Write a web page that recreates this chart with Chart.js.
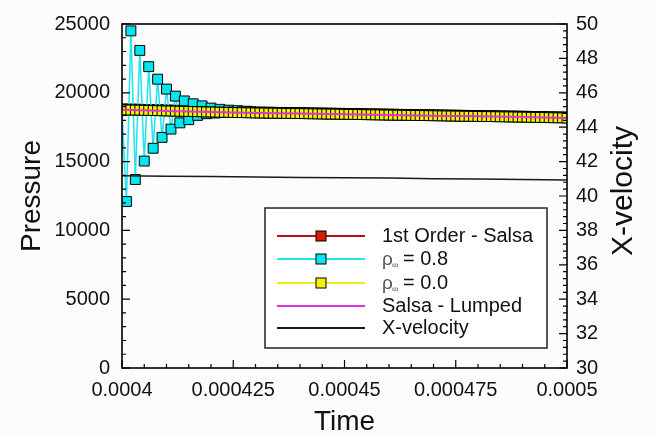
<!DOCTYPE html>
<html lang="en">
<head>
<meta charset="UTF-8">
<title>Pressure and X-velocity vs Time</title>
<script src="https://cdn.jsdelivr.net/npm/chart.js"></script>
<style>
  body { margin: 0; background: #fcfcfc; }
  #wrap { width: 656px; height: 437px; position: relative; }
</style>
</head>
<body>
<div id="wrap"><canvas id="chart"></canvas></div>
<script>
// sampling of the marker series: one point per microsecond
const T0 = 0.0004;
const DT = 0.000001;

const timeTicks = [0.0004, 0.000425, 0.00045, 0.000475, 0.0005];
const timeTickLabels = ['0.0004', '0.000425', '0.00045', '0.000475', '0.0005'];
const pressureTicks = [0, 5000, 10000, 15000, 20000, 25000];
const pressureTickLabels = ['0', '5000', '10000', '15000', '20000', '25000'];
const velocityTicks = [30, 32, 34, 36, 38, 40, 42, 44, 46, 48, 50];
const velocityTickLabels = ['30', '32', '34', '36', '38', '40', '42', '44', '46', '48', '50'];

// pressure, 1st Order - Salsa
const firstOrder = [
  18820, 18815, 18810, 18805, 18800, 18790, 18780, 18775, 18765, 18755,
  18745, 18740, 18730, 18720, 18715, 18705, 18700, 18690, 18680, 18670,
  18665, 18660, 18650, 18645, 18640, 18630, 18625, 18620, 18615, 18605,
  18600, 18595, 18590, 18585, 18580, 18575, 18570, 18565, 18560, 18555,
  18550, 18545, 18540, 18535, 18530, 18525, 18520, 18515, 18510, 18505,
  18500, 18495, 18490, 18485, 18480, 18470, 18465, 18460, 18455, 18450,
  18445, 18440, 18435, 18430, 18425, 18420, 18415, 18410, 18405, 18400,
  18395, 18390, 18385, 18380, 18375, 18370, 18365, 18360, 18355, 18350,
  18345, 18340, 18335, 18330, 18325, 18320, 18315, 18310, 18305, 18300,
  18295, 18290, 18280, 18275, 18270, 18265, 18255, 18250, 18245, 18240,
  18230
];

// pressure, rho_inf = 0.8
const rho08 = [
  18700, 12100, 24500, 13700, 23080, 15040, 21900, 15970, 20990, 16760,
  20270, 17360, 19760, 17815, 19410, 18050, 19200, 18360, 19050, 18480,
  18890, 18530, 18800, 18580, 18740, 18610, 18700, 18620, 18660, 18610,
  18560, 18555, 18550, 18545, 18540, 18535, 18530, 18525, 18520, 18515,
  18510, 18505, 18500, 18495, 18490, 18485, 18480, 18475, 18470, 18465,
  18460, 18455, 18450, 18445, 18440, 18430, 18425, 18420, 18415, 18410,
  18405, 18400, 18395, 18390, 18385, 18380, 18375, 18370, 18365, 18360,
  18355, 18350, 18345, 18340, 18335, 18330, 18325, 18320, 18315, 18310,
  18305, 18300, 18295, 18290, 18285, 18280, 18275, 18270, 18265, 18260,
  18255, 18250, 18240, 18235, 18230, 18225, 18215, 18210, 18205, 18200,
  18190
];

// pressure, rho_inf = 0.0
const rho00 = [
  18760, 18755, 18750, 18745, 18740, 18730, 18720, 18715, 18705, 18695,
  18685, 18680, 18670, 18660, 18655, 18645, 18640, 18630, 18620, 18610,
  18605, 18600, 18590, 18585, 18580, 18570, 18565, 18560, 18555, 18545,
  18540, 18535, 18530, 18525, 18520, 18515, 18510, 18505, 18500, 18495,
  18490, 18485, 18480, 18475, 18470, 18465, 18460, 18455, 18450, 18445,
  18440, 18435, 18430, 18425, 18420, 18410, 18405, 18400, 18395, 18390,
  18385, 18380, 18375, 18370, 18365, 18360, 18355, 18350, 18345, 18340,
  18335, 18330, 18325, 18320, 18315, 18310, 18305, 18300, 18295, 18290,
  18285, 18280, 18275, 18270, 18265, 18260, 18255, 18250, 18245, 18240,
  18235, 18230, 18220, 18215, 18210, 18205, 18195, 18190, 18185, 18180,
  18170
];

// line-only series, every 10 microseconds
const coarseTimes = [0.0004, 0.00041, 0.00042, 0.00043, 0.00044, 0.00045,
                     0.00046, 0.00047, 0.00048, 0.00049, 0.0005];
const lumped = [18770, 18680, 18600, 18540, 18490, 18440, 18380, 18340, 18290, 18240, 18170];
const xVelocity = [41.18, 41.15, 41.13, 41.11, 41.08, 41.06, 41.04, 41.01, 40.99, 40.96, 40.93];

const stepTimes = rho00.map((_, i) => T0 + i * DT);
const pts = (xs, ys) => ys.map((y, i) => ({ x: xs[i], y: y }));

const FONT = 'Liberation Sans, Arial, Helvetica, sans-serif';

const series = [
  { label: '1st Order - Salsa', line: '#b81010', fill: '#d42000', marker: true },
  { label: 'rho08', line: '#20e4f0', fill: '#00e6ee', marker: true },
  { label: 'rho00', line: '#eeee10', fill: '#f4f400', marker: true },
  { label: 'Salsa - Lumped', line: '#e030e0', marker: false },
  { label: 'X-velocity', line: '#1a1a1a', marker: false }
];

// inward ticks, frame, legend box and right-hand title
const decorations = {
  id: 'decorations',
  afterDatasetsDraw(chart) {
    const { ctx, chartArea: a } = chart;
    const sx = chart.scales.x, sy = chart.scales.y, sv = chart.scales.y2;
    ctx.save();
    ctx.strokeStyle = '#000';
    ctx.lineWidth = 1.2;

    function ticks(values, scale, draw) {
      for (let i = 0; i < values.length; i++) {
        draw(scale.getPixelForValue(values[i]), 8);
        if (i < values.length - 1) {
          const step = (values[i + 1] - values[i]) / 5;
          for (let j = 1; j < 5; j++) draw(scale.getPixelForValue(values[i] + j * step), 4);
        }
      }
    }
    ctx.beginPath();
    ticks(timeTicks, sx, (p, len) => { ctx.moveTo(p, a.bottom); ctx.lineTo(p, a.bottom - len); });
    ticks(pressureTicks, sy, (p, len) => { ctx.moveTo(a.left, p); ctx.lineTo(a.left + len, p); });
    ticks(velocityTicks, sv, (p, len) => { ctx.moveTo(a.right, p); ctx.lineTo(a.right - len, p); });
    ctx.stroke();

    ctx.lineWidth = 1.6;
    ctx.strokeRect(a.left, a.top, a.right - a.left, a.bottom - a.top);

    // legend
    const bx = 265, by = 208, bw = 282, bh = 140;
    ctx.fillStyle = '#fff';
    ctx.fillRect(bx, by, bw, bh);
    ctx.lineWidth = 1.5;
    ctx.strokeStyle = '#222';
    ctx.strokeRect(bx, by, bw, bh);
    const rows = [236, 259, 283, 306, 328];
    series.forEach((s, i) => {
      const y = rows[i];
      ctx.strokeStyle = s.line;
      ctx.lineWidth = 2;
      ctx.beginPath();
      ctx.moveTo(277, y);
      ctx.lineTo(365, y);
      ctx.stroke();
      if (s.marker) {
        ctx.fillStyle = s.fill;
        ctx.fillRect(316, y - 5, 10, 10);
        ctx.strokeStyle = '#000';
        ctx.lineWidth = 1;
        ctx.strokeRect(316, y - 5, 10, 10);
      }
      ctx.fillStyle = '#111';
      ctx.textBaseline = 'middle';
      ctx.textAlign = 'left';
      if (i === 1 || i === 2) {
        ctx.font = '19px ' + FONT;
        ctx.fillStyle = '#555';
        ctx.fillText('ρ', 382, y + 1);
        ctx.font = '9px ' + FONT;
        ctx.fillText('∞', 392, y + 7);
        ctx.fillStyle = '#111';
        ctx.font = '20px ' + FONT;
        ctx.fillText(i === 1 ? '= 0.8' : '= 0.0', 403, y);
      } else {
        ctx.font = '20px ' + FONT;
        ctx.fillText(s.label, 382, y);
      }
    });

    // right axis title, read bottom to top
    ctx.translate(624, 191);
    ctx.rotate(-Math.PI / 2);
    ctx.font = '30px ' + FONT;
    ctx.fillStyle = '#111';
    ctx.textAlign = 'center';
    ctx.textBaseline = 'middle';
    ctx.fillText('X-velocity', 0, 0);
    ctx.restore();
  }
};

const markerSet = (s, data, order) => ({
  label: s.label, data, order,
  borderColor: s.line, borderWidth: s === series[1] ? 1.5 : 2,
  pointStyle: 'rect', pointRadius: 7, pointHoverRadius: 7,
  pointBackgroundColor: s.fill, pointBorderColor: '#000', pointBorderWidth: 1,
  yAxisID: 'y'
});

new Chart(document.getElementById('chart'), {
  type: 'line',
  data: {
    datasets: [
      markerSet(series[0], pts(stepTimes, firstOrder), 5),
      markerSet(series[1], pts(stepTimes, rho08), 4),
      markerSet(series[2], pts(stepTimes, rho00), 3),
      { label: series[3].label, data: pts(coarseTimes, lumped), order: 2,
        borderColor: series[3].line, borderWidth: 2, pointRadius: 0, yAxisID: 'y' },
      { label: series[4].label, data: pts(coarseTimes, xVelocity), order: 1,
        borderColor: series[4].line, borderWidth: 1.5, pointRadius: 0, yAxisID: 'y2' }
    ]
  },
  options: {
    responsive: true,
    maintainAspectRatio: false,
    animation: false,
    events: [],
    layout: { padding: { top: 19, left: 0, right: 0, bottom: 0 } },
    plugins: { legend: { display: false }, tooltip: { enabled: false } },
    scales: {
      x: {
        type: 'linear', min: 0.0004, max: 0.0005,
        border: { display: false },
        grid: { display: false, drawTicks: false, tickLength: 0 },
        afterBuildTicks: s => { s.ticks = timeTicks.map(v => ({ value: v })); },
        afterFit: s => { s.height = 69; },
        ticks: {
          autoSkip: false, maxRotation: 0, padding: 10, color: '#111',
          font: { family: FONT, size: 20 },
          callback: (v, i) => timeTickLabels[i]
        },
        title: {
          display: true, text: 'Time', color: '#111',
          font: { family: FONT, size: 28, lineHeight: 1 },
          padding: { top: 0, bottom: 1 }
        }
      },
      y: {
        position: 'left', min: 0, max: 25000,
        border: { display: false },
        grid: { display: false, drawTicks: false, tickLength: 0 },
        afterBuildTicks: s => { s.ticks = pressureTicks.map(v => ({ value: v })); },
        afterFit: s => { s.width = 122; },
        ticks: {
          padding: 12, color: '#111',
          font: { family: FONT, size: 20 },
          callback: (v, i) => pressureTickLabels[i]
        },
        title: {
          display: true, text: 'Pressure', color: '#111',
          font: { family: FONT, size: 28, lineHeight: 1 },
          padding: { top: 18, bottom: 0 }
        }
      },
      y2: {
        position: 'right', min: 30, max: 50,
        border: { display: false },
        grid: { display: false, drawTicks: false, tickLength: 0 },
        afterBuildTicks: s => { s.ticks = velocityTicks.map(v => ({ value: v })); },
        afterFit: s => { s.width = 89; },
        ticks: {
          padding: 9, color: '#111',
          font: { family: FONT, size: 20 },
          callback: (v, i) => velocityTickLabels[i]
        }
      }
    }
  },
  plugins: [decorations]
});
</script>
</body>
</html>
